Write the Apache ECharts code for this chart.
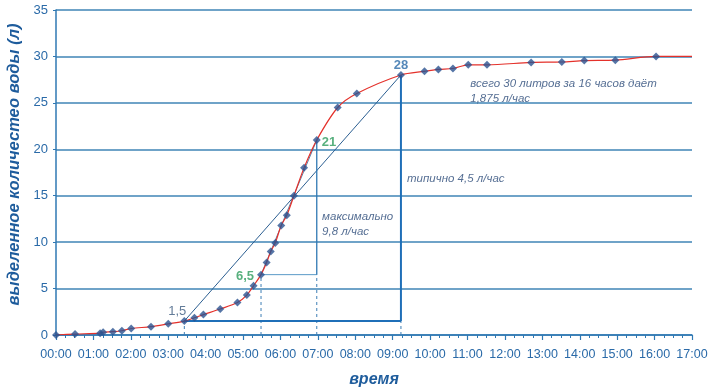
<!DOCTYPE html>
<html><head><meta charset="utf-8">
<script src="https://cdn.jsdelivr.net/npm/echarts@6/dist/echarts.min.js"></script>
<style>html,body{margin:0;padding:0;background:#fff}#c{width:711px;height:388px}</style>
</head><body><div id="c"></div>
<script>
// measured hours (decimal) and released water (litres)
var hours  = [0, 0.51, 1.18, 1.26, 1.52, 1.76, 2.01, 2.54, 3.00, 3.43, 3.70, 3.94, 4.39, 4.85, 5.10, 5.28, 5.48, 5.63, 5.74, 5.86, 6.02, 6.17, 6.36, 6.63, 6.97, 7.53, 8.04, 9.22, 9.85, 10.22, 10.61, 11.02, 11.52, 12.70, 13.52, 14.12, 14.95, 16.04];
var litres = [0, 0.1, 0.2, 0.3, 0.36, 0.46, 0.7, 0.9, 1.2, 1.5, 1.86, 2.2, 2.8, 3.5, 4.3, 5.3, 6.5, 7.8, 9.0, 9.9, 11.8, 12.9, 15.0, 18.0, 21.0, 24.5, 26.0, 28.0, 28.4, 28.6, 28.7, 29.1, 29.1, 29.35, 29.4, 29.55, 29.6, 30.0];
var curveEnd = [17, 30.0];
var xTicks = ["00:00","01:00","02:00","03:00","04:00","05:00","06:00","07:00","08:00","09:00","10:00","11:00","12:00","13:00","14:00","15:00","16:00","17:00"];
var yTicks = [0,5,10,15,20,25,30,35];
// key points: [hour, litres]
var p15 = [3.43, 1.5];
var p65 = [5.48, 6.5];
var p21 = [6.97, 21];
var p28 = [9.22, 28];
var noteMax = "максимально\n9,8 л/час";
var noteTyp = "типично 4,5 л/час";
var noteAll = "всего 30 литров за 16 часов даёт\n1,875 л/час";

var pts = hours.map(function(h,i){return [h, litres[i]];});
var curve = pts.concat([curveEnd]);
var F = "Liberation Sans";
var blue = "#2f78b3";
function seg(a, b, color, width, type){
  return {type:'line', data:[a,b], symbol:'none', silent:true, z:3,
    lineStyle:{color:color, width:width, type:type||'solid'}};
}
var series = [
  seg([p15[0],0], p15, '#3f7fb5', 1, [3,3]),
  seg([p65[0],0], p65, '#3f7fb5', 1, [3,3]),
  seg([p21[0],0], [p21[0],p65[1]], '#3f7fb5', 1, [3,3]),
  seg([p28[0],0], [p28[0],p15[1]], '#3f7fb5', 1, [3,3]),
  seg(p15, p28, '#2c5f92', 1),
  seg(p15, [p28[0],p15[1]], '#1f6fb8', 2),
  seg([p28[0],p15[1]], p28, '#1f6fb8', 2),
  seg(p65, [p21[0],p65[1]], '#5a9ac8', 1),
  seg([p21[0],p65[1]], p21, '#2f78b3', 1.3),
  seg(p65, p21, '#2c5f92', 0.8),
  {type:'line', data:curve, smooth:0.3, symbol:'none', z:4,
   lineStyle:{color:'#e4312b', width:1.2}},
  {type:'scatter', data:pts, symbol:'diamond', symbolSize:8, z:5,
   itemStyle:{color:'#2b5390'}},
  {type:'scatter', symbolSize:0, z:6, silent:true, data:[
    {value:p15, label:{show:true, formatter:'1,5', position:'left', offset:[7,-10], color:'#3b5a7e', fontSize:13, fontFamily:F}},
    {value:p65, label:{show:true, formatter:'6,5', position:'left', offset:[-2,2], color:'#2e9c5e', fontSize:13, fontWeight:'bold', fontFamily:F}},
    {value:p21, label:{show:true, formatter:'21', position:'right', offset:[0,2], color:'#2e9c5e', fontSize:13, fontWeight:'bold', fontFamily:F}},
    {value:p28, label:{show:true, formatter:'28', position:'top', offset:[0,2], color:'#2a6aa8', fontSize:13, fontWeight:'bold', fontFamily:F}},
    {value:[7.14,12.2], label:{show:true, formatter:noteMax, position:'right', offset:[-6,3], color:'#2a4a78', fontSize:11.5, fontStyle:'italic', lineHeight:15, fontFamily:F}},
    {value:[9.41,17.15], label:{show:true, formatter:noteTyp, position:'right', offset:[-6,3], color:'#2a4a78', fontSize:11.5, fontStyle:'italic', fontFamily:F}},
    {value:[11.1,26.5], label:{show:true, formatter:noteAll, position:'right', offset:[-6,2], color:'#2a4a78', fontSize:11.5, fontStyle:'italic', lineHeight:15, fontFamily:F}}
  ]}
];
var chart = echarts.init(document.getElementById('c'));
chart.setOption({
  animation:false,
  backgroundColor:'#fff',
  grid:{left:56, right:19, top:10, bottom:53, containLabel:false, outerBoundsMode:'none'},
  xAxis:{type:'value', min:0, max:17, interval:1,
    name:'время', nameLocation:'middle', nameGap:37,
    nameTextStyle:{color:'#1e5c9c', fontSize:16, fontWeight:'bold', fontStyle:'italic', fontFamily:F},
    axisLine:{lineStyle:{color:blue, width:1.5}},
    axisTick:{show:true, length:5, lineStyle:{color:blue, width:1.2}},
    minorTick:{show:true, splitNumber:4, length:3, lineStyle:{color:blue}},
    splitLine:{show:false},
    axisLabel:{color:'#2a6aa8', fontSize:12.5, fontFamily:F, margin:13,
      formatter:function(v){return xTicks[Math.round(v)];}}},
  yAxis:{type:'value', min:0, max:35, interval:5,
    name:'выделенное количестео воды (л)', nameLocation:'middle', nameGap:25,
    nameTextStyle:{color:'#1e5c9c', fontSize:16.5, fontWeight:'bold', fontStyle:'italic', fontFamily:F, padding:[0,0,0,16]},
    axisLine:{show:true, lineStyle:{color:blue, width:1.5}},
    axisTick:{show:true, length:3, lineStyle:{color:blue}},
    splitLine:{show:true, lineStyle:{color:'#3f84b6', width:1.5}},
    axisLabel:{color:'#2a6aa8', fontSize:13, fontFamily:F, margin:8,
      formatter:function(v){return yTicks.indexOf(v)>=0 ? String(v) : '';}}},
  series:series
});
</script></body></html>
